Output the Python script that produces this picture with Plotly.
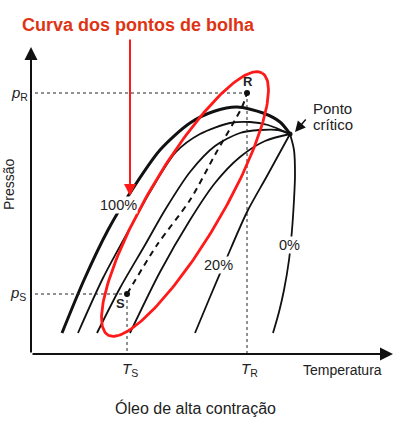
import numpy as np
import plotly.graph_objects as go

# ---- data (temperature T, pressure P in arbitrary diagram units; origin = axes corner) ----
critical_point = (259, 220)

curve_100_T = [31, 53, 77, 99, 129, 159, 184, 206, 232, 249, 259]
curve_100_P = [21, 74, 124, 161, 204, 231, 243, 247, 241, 232, 220]

curve_b_T = [47, 72, 99, 119, 145, 169, 199, 219, 237, 259]
curve_b_P = [21, 76, 126, 162, 202, 220, 231, 232, 229, 220]

curve_c_T = [66, 89, 114, 134, 159, 184, 209, 229, 247, 259]
curve_c_P = [21, 66, 109, 144, 182, 208, 221, 224, 224, 220]

curve_d_T = [99, 129, 159, 184, 209, 234, 259]
curve_d_P = [21, 82, 134, 171, 197, 213, 220]

curve_20_T = [164, 179, 194, 216, 236, 259]
curve_20_P = [21, 57, 92, 142, 178, 220]

curve_0_T = [259, 263, 264, 263, 261, 258, 253, 248, 242]
curve_0_P = [220, 204, 179, 154, 124, 94, 64, 42, 21]

path_SR_T = [96, 126, 159, 185, 211, 216]
path_SR_P = [60, 109, 154, 201, 247, 261]

T_S, P_S = 96, 60
T_R, P_R = 216, 261

# bubble-point highlight ellipse (center, semi-axes, tilt in degrees)
ell_center = (154, 150)
ell_a, ell_b, ell_angle = 152, 37, 59.5

X_MAX, Y_MAX = 362, 307

FONT = "Liberation Sans, Arial, sans-serif"
BLACK = "#111111"
RED = "#ff1a1a"

fig = go.Figure()

def line(T, P, width=1.8, dash=None, color=BLACK):
    fig.add_trace(go.Scatter(x=T, y=P, mode="lines",
                             line=dict(color=color, width=width, shape="spline",
                                       smoothing=0.8, dash=dash),
                             hoverinfo="skip", showlegend=False))

# quality curves
line(curve_100_T, curve_100_P, width=3)
line(curve_b_T, curve_b_P)
line(curve_c_T, curve_c_P)
line(curve_d_T, curve_d_P)
line(curve_20_T, curve_20_P)
line(curve_0_T, curve_0_P)

# guide dashed lines
for xs, ys in [([4, T_R], [P_R, P_R]), ([T_R, T_R], [P_R, 0]),
               ([4, T_S], [P_S, P_S]), ([T_S, T_S], [P_S, 0])]:
    fig.add_trace(go.Scatter(x=xs, y=ys, mode="lines",
                             line=dict(color="#222222", width=1, dash="3px,3px"),
                             hoverinfo="skip", showlegend=False))

# S -> R path
line(path_SR_T, path_SR_P, width=2, dash="6px,5px")

# S and R points
fig.add_trace(go.Scatter(x=[T_S, T_R], y=[P_S, P_R], mode="markers",
                         marker=dict(color=BLACK, size=6),
                         hoverinfo="skip", showlegend=False))

# critical point marker
fig.add_trace(go.Scatter(x=[critical_point[0]], y=[critical_point[1]], mode="markers",
                         marker=dict(color=BLACK, size=5),
                         hoverinfo="skip", showlegend=False))

# red ellipse
t = np.linspace(0, 2 * np.pi, 200)
th = np.deg2rad(ell_angle)
ex = ell_center[0] + ell_a * np.cos(t) * np.cos(th) - ell_b * np.sin(t) * np.sin(th)
ey = ell_center[1] + ell_a * np.cos(t) * np.sin(th) + ell_b * np.sin(t) * np.cos(th)
fig.add_trace(go.Scatter(x=ex, y=ey, mode="lines", line=dict(color=RED, width=2.8),
                         hoverinfo="skip", showlegend=False))

def arrow(x0, y0, x1, y1, color=BLACK, width=1.8, size=1.3):
    fig.add_annotation(x=x1, y=y1, ax=x0, ay=y0, xref="x", yref="y", axref="x", ayref="y",
                       text="", showarrow=True, arrowhead=2, arrowsize=size,
                       arrowwidth=width, arrowcolor=color)

# axes
arrow(0, 0, X_MAX, 0, width=2)
arrow(0, 0, 0, Y_MAX, width=2)
# red pointer
arrow(99, 316, 99, 158, color=RED, width=2, size=1.2)
# critical point pointer
arrow(276, 236, 264, 222, width=1.5, size=1.4)

def text(x, y, s, size=13, color="#222222", xanchor="center", angle=0, bold=False, bg=None):
    fig.add_annotation(x=x, y=y, xref="x", yref="y", text=f"<b>{s}</b>" if bold else s,
                       showarrow=False, xanchor=xanchor, yanchor="middle", textangle=angle,
                       bgcolor=bg, borderpad=0,
                       font=dict(family=FONT, size=size, color=color))

text(107, 329, "Curva dos pontos de bolha", size=18, color="#de3414", bold=True)
text(-12, 261, "<i>p</i><sub>R</sub>", size=15)
text(-13, 61, "<i>p</i><sub>S</sub>", size=15)
text(99, -15, "<i>T</i><sub>S</sub>", size=15)
text(218, -15, "<i>T</i><sub>R</sub>", size=15)
text(311, -16, "Temperatura", size=14)
text(164, -54, "Óleo de alta contração", size=16)
text(-22, 170, "Pressão", size=14, angle=-90)
text(281, 246, "Ponto", size=15, xanchor="left")
text(281, 230, "crítico", size=15, xanchor="left")
text(87, 149, "100%", size=14.5, bg="white")
text(187, 89, "20%", size=14.5, bg="white")
text(258, 109, "0%", size=14.5, bg="white")
text(217, 273, "R", size=13, bold=True)
text(89, 51, "S", size=13, bold=True)

fig.update_layout(
    width=394, height=426,
    margin=dict(l=0, r=0, t=0, b=0),
    paper_bgcolor="white", plot_bgcolor="white",
    xaxis=dict(range=[-31, 363], visible=False, fixedrange=True),
    yaxis=dict(range=[-72, 354], visible=False, fixedrange=True),
    showlegend=False,
)

fig.write_html("out.html", config={"displayModeBar": False},
               post_script="document.body.style.margin='0';document.body.style.overflow='hidden';")
